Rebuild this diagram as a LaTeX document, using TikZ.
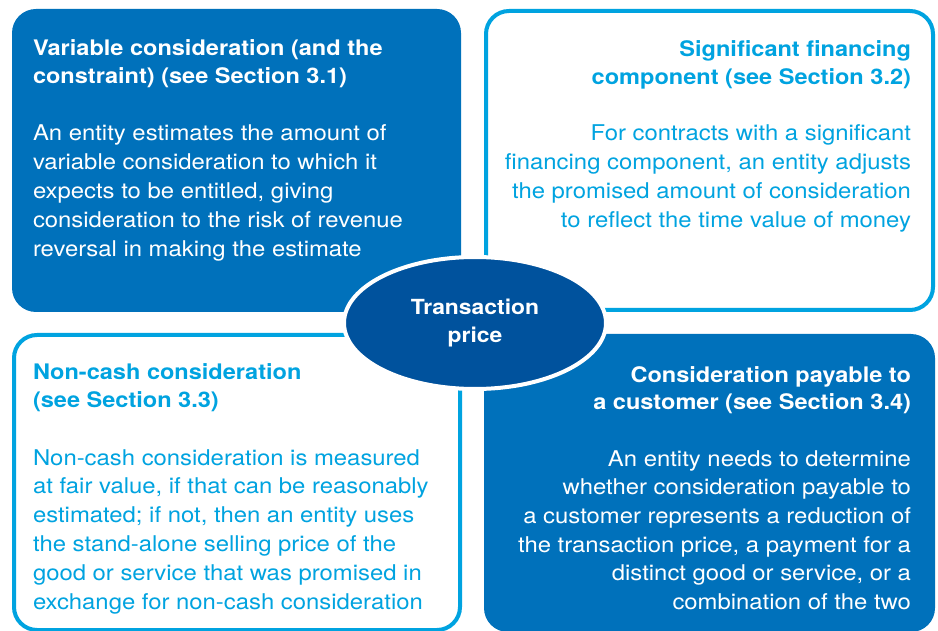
\documentclass[tikz,border=0pt]{standalone}
\usepackage{fontspec}
\setmainfont{TeX Gyre Heros}[FakeStretch=1.1]
\usetikzlibrary{shapes.geometric}
\definecolor{kblue}{HTML}{0071BB}
\definecolor{klight}{HTML}{00A3E0}
\definecolor{kdark}{HTML}{00529D}
\newcommand{\hdL}[1]{\parbox[t]{440pt}{\raggedright\fontsize{21.4}{28}\selectfont\bfseries #1}}
\newcommand{\hdR}[1]{\parbox[t]{440pt}{\raggedleft\fontsize{21.4}{28}\selectfont\bfseries #1}}
\newcommand{\bdL}[1]{\parbox[t]{440pt}{\raggedright\fontsize{21.7}{28.8}\selectfont #1}}
\newcommand{\bdR}[1]{\parbox[t]{440pt}{\raggedleft\fontsize{21.7}{28.7}\selectfont #1}}
\tikzset{
  fillbox/.style={draw=none, fill=kblue, rounded corners=24pt, inner sep=0pt},
  linebox/.style={draw=klight, line width=4pt, fill=white, rounded corners=23pt, inner sep=0pt},
  txt/.style={inner sep=0pt, outer sep=0pt},
  centre/.style={ellipse, fill=kdark, draw=white, line width=4pt, inner sep=0pt,
    minimum width=262pt, minimum height=132pt, text=white, align=center,
    font=\fontsize{20.8}{28}\selectfont\bfseries}
}
\begin{document}
\begin{tikzpicture}[x=1pt,y=-1pt]
\useasboundingbox (0,0) rectangle (938,631);
% boxes
\node[fillbox, minimum width=449pt, minimum height=303pt] (tl) at (236.5,160.5) {};
\node[linebox, minimum width=447pt, minimum height=299pt] (tr) at (709.5,160.5) {};
\node[linebox, minimum width=446pt, minimum height=295pt] (bl) at (237,482.5) {};
\node[fillbox, minimum width=451pt, minimum height=298pt] (br) at (709.5,483) {};
% texts
\node[txt, anchor=base west, text=white] (tlh) at (33,56) {\hdL{Variable consideration (and the\\constraint) (see Section 3.1)}};
\node[txt, anchor=base west, text=white] (tlb) at (33,141) {\bdL{An entity estimates the amount of\\variable consideration to which it\\expects to be entitled, giving\\consideration to the risk of revenue\\reversal in making the estimate}};
\node[txt, anchor=base east, text=klight] (trh) at (911,57) {\hdR{Significant financing\\component (see Section 3.2)}};
\node[txt, anchor=base east, text=klight] (trb) at (911,141) {\bdR{For contracts with a significant\\financing component, an entity adjusts\\the promised amount of consideration\\to reflect the time value of money}};
\node[txt, anchor=base west, text=klight] (blh) at (33,380) {\hdL{Non-cash consideration\\(see Section 3.3)}};
\node[txt, anchor=base west, text=klight] (blb) at (33,465) {\bdL{Non-cash consideration is measured\\at fair value, if that can be reasonably\\estimated; if not, then an entity uses\\the stand-alone selling price of the\\good or service that was promised in\\exchange for non-cash consideration}};
\node[txt, anchor=base east, text=white] (brh) at (911,382) {\hdR{Consideration payable to\\a customer (see Section 3.4)}};
\node[txt, anchor=base east, text=white] (brb) at (911,466) {\bdR{An entity needs to determine\\whether consideration payable to\\a customer represents a reduction of\\the transaction price, a payment for a\\distinct good or service, or a\\combination of the two}};
% centre
\node[centre] (tp) at (475,323) {Transaction\\price};
\end{tikzpicture}
\end{document}
